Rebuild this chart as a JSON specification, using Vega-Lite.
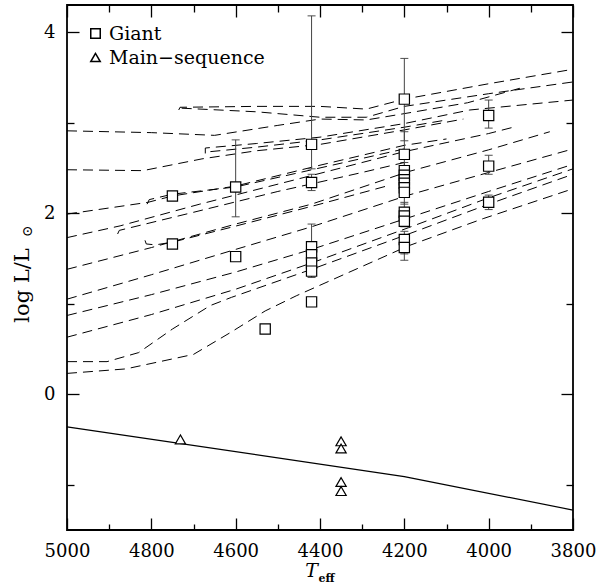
{
  "$schema": "https://vega.github.io/schema/vega-lite/v6.json",
  "width": 506,
  "height": 525,
  "autosize": "none",
  "padding": {"left": 67, "top": 5, "right": 26, "bottom": 54},
  "background": "white",
  "config": {
    "view": {"stroke": "black", "strokeWidth": 1.8},
    "font": "DejaVu Serif",
    "axis": {"labelFont": "DejaVu Serif", "titleFont": "DejaVu Serif", "labelColor": "black", "titleColor": "black", "tickColor": "black", "domain": false, "grid": false, "tickWidth": 1.3}
  },
  "datasets": {
    "tracks": [
      {"id": "t1", "o": 1, "T": 4735, "L": 3.14}, {"id": "t1", "o": 2, "T": 4732, "L": 3.17}, {"id": "t1", "o": 3, "T": 4550, "L": 3.18}, {"id": "t1", "o": 4, "T": 4400, "L": 3.18}, {"id": "t1", "o": 5, "T": 4290, "L": 3.15}, {"id": "t1", "o": 6, "T": 4200, "L": 3.26}, {"id": "t1", "o": 7, "T": 4000, "L": 3.43}, {"id": "t1", "o": 8, "T": 3800, "L": 3.59},
      {"id": "t2", "o": 1, "T": 4728, "L": 3.16}, {"id": "t2", "o": 2, "T": 4550, "L": 3.12}, {"id": "t2", "o": 3, "T": 4400, "L": 3.06}, {"id": "t2", "o": 4, "T": 4290, "L": 3.06}, {"id": "t2", "o": 5, "T": 4200, "L": 3.18}, {"id": "t2", "o": 6, "T": 4000, "L": 3.32}, {"id": "t2", "o": 7, "T": 3800, "L": 3.45},
      {"id": "t3", "o": 1, "T": 5000, "L": 2.91}, {"id": "t3", "o": 2, "T": 4800, "L": 2.89}, {"id": "t3", "o": 3, "T": 4650, "L": 2.86}, {"id": "t3", "o": 4, "T": 4500, "L": 2.97}, {"id": "t3", "o": 5, "T": 4400, "L": 3.04}, {"id": "t3", "o": 6, "T": 4290, "L": 3.03}, {"id": "t3", "o": 7, "T": 4200, "L": 3.1}, {"id": "t3", "o": 8, "T": 4050, "L": 3.22}, {"id": "t3", "o": 9, "T": 3926, "L": 3.38},
      {"id": "t4", "o": 1, "T": 4672, "L": 2.66}, {"id": "t4", "o": 2, "T": 4672, "L": 2.72}, {"id": "t4", "o": 3, "T": 4550, "L": 2.77}, {"id": "t4", "o": 4, "T": 4400, "L": 2.84}, {"id": "t4", "o": 5, "T": 4200, "L": 2.99}, {"id": "t4", "o": 6, "T": 4045, "L": 3.14}, {"id": "t4", "o": 7, "T": 3800, "L": 3.25},
      {"id": "t5", "o": 1, "T": 4660, "L": 2.68}, {"id": "t5", "o": 2, "T": 4550, "L": 2.73}, {"id": "t5", "o": 3, "T": 4400, "L": 2.81}, {"id": "t5", "o": 4, "T": 4200, "L": 2.95}, {"id": "t5", "o": 5, "T": 4100, "L": 3.03},
      {"id": "t6", "o": 1, "T": 5000, "L": 2.48}, {"id": "t6", "o": 2, "T": 4820, "L": 2.47}, {"id": "t6", "o": 3, "T": 4680, "L": 2.6}, {"id": "t6", "o": 4, "T": 4550, "L": 2.69}, {"id": "t6", "o": 5, "T": 4400, "L": 2.76}, {"id": "t6", "o": 6, "T": 4200, "L": 2.92}, {"id": "t6", "o": 7, "T": 4060, "L": 3.04},
      {"id": "m1", "o": 1, "T": 4815, "L": 1.7}, {"id": "m1", "o": 2, "T": 4812, "L": 1.66}, {"id": "m1", "o": 3, "T": 4790, "L": 1.65}, {"id": "m1", "o": 4, "T": 4750, "L": 1.68}, {"id": "m1", "o": 5, "T": 4606, "L": 1.85}, {"id": "m1", "o": 6, "T": 4400, "L": 2.1}, {"id": "m1", "o": 7, "T": 4234, "L": 2.31},
      {"id": "m2", "o": 1, "T": 5000, "L": 1.73}, {"id": "m2", "o": 2, "T": 4874, "L": 1.86}, {"id": "m2", "o": 3, "T": 4685, "L": 2.1}, {"id": "m2", "o": 4, "T": 4400, "L": 2.44}, {"id": "m2", "o": 5, "T": 4200, "L": 2.68}, {"id": "m2", "o": 6, "T": 4000, "L": 2.88}, {"id": "m2", "o": 7, "T": 3933, "L": 2.96},
      {"id": "m3", "o": 1, "T": 4880, "L": 1.77}, {"id": "m3", "o": 2, "T": 4876, "L": 1.81}, {"id": "m3", "o": 3, "T": 4700, "L": 2.01}, {"id": "m3", "o": 4, "T": 4500, "L": 2.24}, {"id": "m3", "o": 5, "T": 4300, "L": 2.45}, {"id": "m3", "o": 6, "T": 4200, "L": 2.56},
      {"id": "m4", "o": 1, "T": 5000, "L": 1.99}, {"id": "m4", "o": 2, "T": 4808, "L": 2.12}, {"id": "m4", "o": 3, "T": 4750, "L": 2.19}, {"id": "m4", "o": 4, "T": 4600, "L": 2.3}, {"id": "m4", "o": 5, "T": 4400, "L": 2.53}, {"id": "m4", "o": 6, "T": 4200, "L": 2.75}, {"id": "m4", "o": 7, "T": 4100, "L": 2.82},
      {"id": "m5", "o": 1, "T": 4810, "L": 2.1}, {"id": "m5", "o": 2, "T": 4805, "L": 2.15}, {"id": "m5", "o": 3, "T": 4750, "L": 2.21}, {"id": "m5", "o": 4, "T": 4600, "L": 2.29}, {"id": "m5", "o": 5, "T": 4400, "L": 2.5}, {"id": "m5", "o": 6, "T": 4200, "L": 2.71},
      {"id": "b6", "o": 1, "T": 5000, "L": 1.38}, {"id": "b6", "o": 2, "T": 4800, "L": 1.62}, {"id": "b6", "o": 3, "T": 4600, "L": 1.88}, {"id": "b6", "o": 4, "T": 4420, "L": 2.1}, {"id": "b6", "o": 5, "T": 4190, "L": 2.46}, {"id": "b6", "o": 6, "T": 4000, "L": 2.7}, {"id": "b6", "o": 7, "T": 3855, "L": 2.9},
      {"id": "b5", "o": 1, "T": 5000, "L": 1.05}, {"id": "b5", "o": 2, "T": 4800, "L": 1.32}, {"id": "b5", "o": 3, "T": 4600, "L": 1.6}, {"id": "b5", "o": 4, "T": 4420, "L": 1.85}, {"id": "b5", "o": 5, "T": 4190, "L": 2.2}, {"id": "b5", "o": 6, "T": 4000, "L": 2.45}, {"id": "b5", "o": 7, "T": 3800, "L": 2.71},
      {"id": "b4", "o": 1, "T": 5000, "L": 0.87}, {"id": "b4", "o": 2, "T": 4800, "L": 1.1}, {"id": "b4", "o": 3, "T": 4600, "L": 1.35}, {"id": "b4", "o": 4, "T": 4420, "L": 1.6}, {"id": "b4", "o": 5, "T": 4190, "L": 1.95}, {"id": "b4", "o": 6, "T": 4000, "L": 2.24}, {"id": "b4", "o": 7, "T": 3800, "L": 2.54},
      {"id": "b3", "o": 1, "T": 5000, "L": 0.63}, {"id": "b3", "o": 2, "T": 4800, "L": 0.88}, {"id": "b3", "o": 3, "T": 4600, "L": 1.16}, {"id": "b3", "o": 4, "T": 4420, "L": 1.45}, {"id": "b3", "o": 5, "T": 4190, "L": 1.84}, {"id": "b3", "o": 6, "T": 4000, "L": 2.17}, {"id": "b3", "o": 7, "T": 3800, "L": 2.49},
      {"id": "b2", "o": 1, "T": 5000, "L": 0.36}, {"id": "b2", "o": 2, "T": 4905, "L": 0.36}, {"id": "b2", "o": 3, "T": 4830, "L": 0.46}, {"id": "b2", "o": 4, "T": 4750, "L": 0.72}, {"id": "b2", "o": 5, "T": 4660, "L": 0.98}, {"id": "b2", "o": 6, "T": 4610, "L": 1.07}, {"id": "b2", "o": 7, "T": 4420, "L": 1.38}, {"id": "b2", "o": 8, "T": 4190, "L": 1.77}, {"id": "b2", "o": 9, "T": 4000, "L": 2.1}, {"id": "b2", "o": 10, "T": 3800, "L": 2.43},
      {"id": "b1", "o": 1, "T": 5000, "L": 0.23}, {"id": "b1", "o": 2, "T": 4860, "L": 0.28}, {"id": "b1", "o": 3, "T": 4700, "L": 0.44}, {"id": "b1", "o": 4, "T": 4613, "L": 0.68}, {"id": "b1", "o": 5, "T": 4530, "L": 0.92}, {"id": "b1", "o": 6, "T": 4455, "L": 1.09}, {"id": "b1", "o": 7, "T": 4190, "L": 1.64}, {"id": "b1", "o": 8, "T": 4013, "L": 1.94}, {"id": "b1", "o": 9, "T": 3800, "L": 2.27}
    ],
    "zams": [
      {"T": 5000, "L": -0.36}, {"T": 4200, "L": -0.91}, {"T": 3800, "L": -1.28}
    ],
    "stars": [
      {"type": "Giant", "T": 4750, "L": 2.19, "lo": 2.19, "hi": 2.19},
      {"type": "Giant", "T": 4750, "L": 1.66, "lo": 1.66, "hi": 1.66},
      {"type": "Giant", "T": 4600, "L": 2.29, "lo": 1.96, "hi": 2.81},
      {"type": "Giant", "T": 4600, "L": 1.52, "lo": 1.52, "hi": 1.52},
      {"type": "Giant", "T": 4530, "L": 0.72, "lo": 0.72, "hi": 0.72},
      {"type": "Giant", "T": 4420, "L": 2.76, "lo": 2.49, "hi": 4.18},
      {"type": "Giant", "T": 4420, "L": 2.34, "lo": 2.25, "hi": 2.43},
      {"type": "Giant", "T": 4420, "L": 1.63, "lo": 1.29, "hi": 1.88},
      {"type": "Giant", "T": 4420, "L": 1.54, "lo": 1.54, "hi": 1.54},
      {"type": "Giant", "T": 4420, "L": 1.45, "lo": 1.45, "hi": 1.45},
      {"type": "Giant", "T": 4420, "L": 1.36, "lo": 1.36, "hi": 1.36},
      {"type": "Giant", "T": 4420, "L": 1.02, "lo": 1.02, "hi": 1.02},
      {"type": "Giant", "T": 4200, "L": 3.26, "lo": 2.8, "hi": 3.71},
      {"type": "Giant", "T": 4200, "L": 2.65, "lo": 2.5, "hi": 2.9},
      {"type": "Giant", "T": 4200, "L": 2.47, "lo": 2.4, "hi": 2.56},
      {"type": "Giant", "T": 4200, "L": 2.42, "lo": 2.35, "hi": 2.5},
      {"type": "Giant", "T": 4200, "L": 2.37, "lo": 2.3, "hi": 2.45},
      {"type": "Giant", "T": 4200, "L": 2.33, "lo": 2.27, "hi": 2.4},
      {"type": "Giant", "T": 4200, "L": 2.28, "lo": 2.2, "hi": 2.35},
      {"type": "Giant", "T": 4200, "L": 2.23, "lo": 2.1, "hi": 2.3},
      {"type": "Giant", "T": 4200, "L": 2.01, "lo": 1.9, "hi": 2.12},
      {"type": "Giant", "T": 4200, "L": 1.97, "lo": 1.88, "hi": 2.06},
      {"type": "Giant", "T": 4200, "L": 1.91, "lo": 1.85, "hi": 1.98},
      {"type": "Giant", "T": 4200, "L": 1.71, "lo": 1.55, "hi": 1.8},
      {"type": "Giant", "T": 4200, "L": 1.62, "lo": 1.48, "hi": 1.7},
      {"type": "Giant", "T": 4000, "L": 3.08, "lo": 2.94, "hi": 3.25},
      {"type": "Giant", "T": 4000, "L": 2.52, "lo": 2.43, "hi": 2.64},
      {"type": "Giant", "T": 4000, "L": 2.12, "lo": 2.04, "hi": 2.2},
      {"type": "Main\u2212sequence", "T": 4731, "L": -0.5, "lo": -0.5, "hi": -0.5},
      {"type": "Main\u2212sequence", "T": 4350, "L": -0.52, "lo": -0.52, "hi": -0.52},
      {"type": "Main\u2212sequence", "T": 4350, "L": -0.6, "lo": -0.6, "hi": -0.6},
      {"type": "Main\u2212sequence", "T": 4350, "L": -0.97, "lo": -0.97, "hi": -0.97},
      {"type": "Main\u2212sequence", "T": 4350, "L": -1.07, "lo": -1.07, "hi": -1.07}
    ]
  },
  "resolve": {"axis": {"x": "independent", "y": "independent"}},
  "layer": [
    {
      "data": {"name": "tracks"},
      "mark": {"type": "line", "color": "black", "strokeWidth": 1, "strokeDash": [10, 6], "clip": true},
      "encoding": {
        "x": {"field": "T", "type": "quantitative", "scale": {"domain": [5000, 3800], "nice": false, "zero": false},
          "axis": {"orient": "bottom", "values": [5000, 4800, 4600, 4400, 4200, 4000, 3800], "tickSize": -12, "labelPadding": 24, "labelFontSize": 18, "labelFlush": false, "format": "d",
            "title": "T", "titleFontSize": 19, "titleFontStyle": "italic", "titleFontWeight": "normal", "titleX": 244, "titleY": 46, "titleBaseline": "alphabetic", "titleAlign": "center"}},
        "y": {"field": "L", "type": "quantitative", "scale": {"domain": [-1.5, 4.3], "nice": false, "zero": false},
          "axis": {"orient": "left", "values": [0, 2, 4], "tickSize": -12, "labelPadding": 24, "labelFontSize": 18, "format": "d",
            "title": "log L/L", "titleFontSize": 21, "titleFontWeight": "normal", "titleAngle": -90, "titleX": -45, "titleY": 280, "titleAlign": "center", "titleBaseline": "middle"}},
        "detail": {"field": "id"},
        "order": {"field": "o"}
      }
    },
    {
      "data": {"name": "zams"},
      "mark": {"type": "line", "color": "black", "strokeWidth": 1.2},
      "encoding": {
        "x": {"field": "T", "type": "quantitative", "scale": {"domain": [5000, 3800], "nice": false, "zero": false},
          "axis": {"orient": "bottom", "values": [4900, 4700, 4500, 4300, 4100, 3900], "tickSize": -6, "labels": false,
            "title": "eff", "titleFontSize": 11, "titleFontWeight": "bold", "titleX": 259, "titleY": 51, "titleBaseline": "alphabetic", "titleAlign": "center"}},
        "y": {"field": "L", "type": "quantitative", "scale": {"domain": [-1.5, 4.3], "nice": false, "zero": false},
          "axis": {"orient": "left", "values": [-1, 1, 3], "tickSize": -7, "labels": false,
            "title": "\u2299", "titleFontSize": 14, "titleFontWeight": "normal", "titleAngle": -90, "titleX": -40, "titleY": 226, "titleAlign": "center", "titleBaseline": "middle"}}
      }
    },
    {
      "data": {"name": "stars"},
      "transform": [{"filter": "datum.hi > datum.lo"}],
      "mark": {"type": "errorbar", "ticks": {"size": 8, "color": "black", "strokeWidth": 1.2}, "rule": {"color": "#444", "strokeWidth": 1}},
      "encoding": {
        "x": {"field": "T", "type": "quantitative", "scale": {"domain": [5000, 3800], "nice": false, "zero": false},
          "axis": {"orient": "top", "values": [5000, 4800, 4600, 4400, 4200, 4000, 3800], "tickSize": -12, "labels": false, "title": null}},
        "y": {"field": "lo", "type": "quantitative", "scale": {"domain": [-1.5, 4.3], "nice": false, "zero": false},
          "axis": {"orient": "right", "values": [0, 2, 4], "tickSize": -12, "labels": false, "title": null}},
        "y2": {"field": "hi"}
      }
    },
    {
      "data": {"name": "stars"},
      "mark": {"type": "point", "filled": true, "fill": "white", "stroke": "black", "strokeWidth": 1.2, "size": 105, "opacity": 1},
      "encoding": {
        "x": {"field": "T", "type": "quantitative", "scale": {"domain": [5000, 3800], "nice": false, "zero": false},
          "axis": {"orient": "top", "values": [4900, 4700, 4500, 4300, 4100, 3900], "tickSize": -7, "labels": false, "title": null}},
        "y": {"field": "L", "type": "quantitative", "scale": {"domain": [-1.5, 4.3], "nice": false, "zero": false},
          "axis": {"orient": "right", "values": [-1, 1, 3], "tickSize": -7, "labels": false, "title": null}},
        "shape": {"field": "type", "type": "nominal",
          "scale": {"domain": ["Giant", "Main\u2212sequence"], "range": ["square", "triangle-up"]},
          "legend": {"orient": "none", "legendX": 19, "legendY": 19, "title": null, "labelFont": "DejaVu Serif", "labelFontSize": 19, "labelColor": "black", "symbolSize": 90, "rowPadding": 4, "labelOffset": 4,
            "encode": {"symbols": {"update": {"stroke": {"value": "black"}, "fill": {"value": "white"}, "strokeWidth": {"value": 1.1}, "opacity": {"value": 1}}}}}}
      }
    }
  ]
}
